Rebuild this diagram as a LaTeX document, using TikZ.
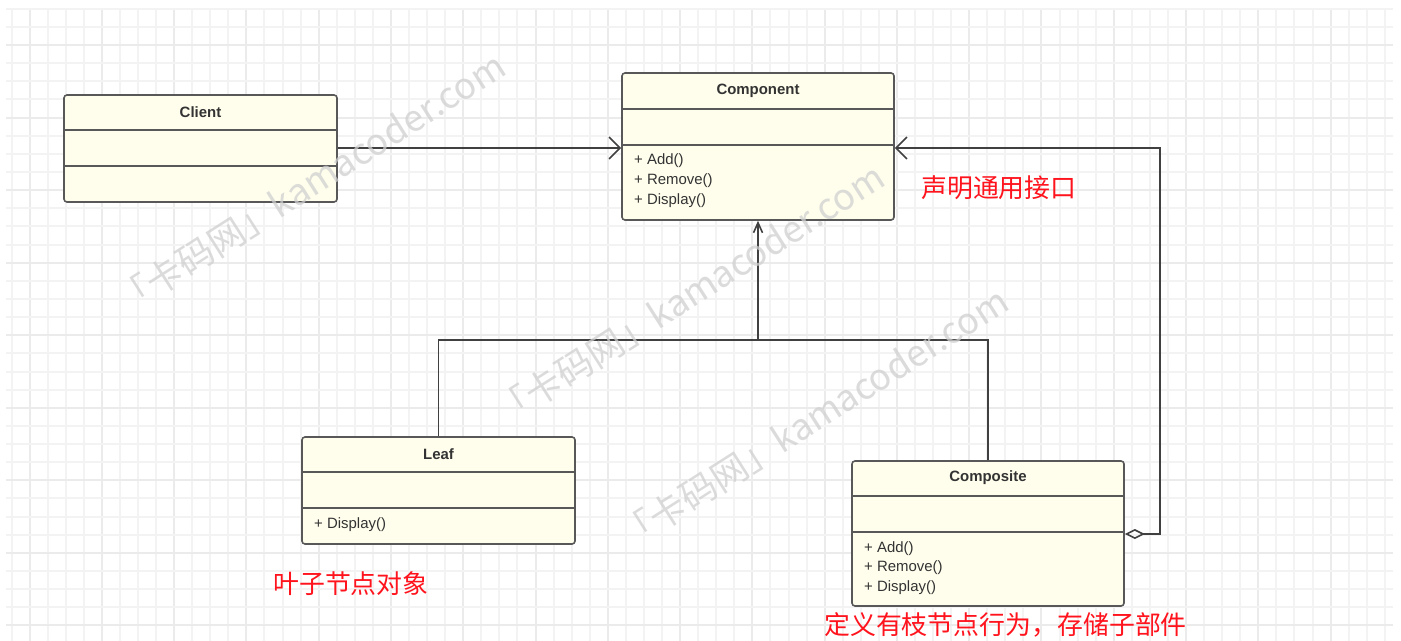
\documentclass[tikz,border=0pt]{standalone}
\usepackage{fontspec}
\setmainfont{Liberation Sans}
\newfontfamily\cjk{Noto Sans CJK SC}
\usetikzlibrary{arrows.meta}
\definecolor{gridminor}{RGB}{243,243,243}
\definecolor{gridmajor}{RGB}{235,235,235}
\definecolor{boxfill}{RGB}{255,254,236}
\definecolor{boxline}{RGB}{88,88,88}
\definecolor{conn}{RGB}{64,64,64}
\definecolor{txt}{RGB}{51,51,51}
\definecolor{note}{RGB}{255,20,30}
\definecolor{wm}{RGB}{208,208,208}
\tikzset{
  cls/.style={draw=boxline, fill=boxfill, line width=1.6bp, rounded corners=3bp, inner sep=0pt},
  divider/.style={draw=boxline, line width=1.6bp},
  ctitle/.style={font=\fontsize{15}{18}\selectfont\bfseries, text=txt, inner sep=0pt},
  meth/.style={font=\fontsize{15}{18}\selectfont, text=txt, inner sep=0pt, anchor=west},
  conline/.style={draw=conn, line width=1.6bp},
  assoc/.style={conline, -{Straight Barb[length=11bp,width=22bp]}},
  inherit/.style={conline, -{Straight Barb[length=10bp,width=9bp]}},
  aggr/.style={conline, {Diamond[open,length=20bp,width=10bp]}-{Straight Barb[length=11bp,width=22bp]}},
  notetext/.style={font=\cjk\fontsize{26}{30}\selectfont, text=note, inner sep=0pt, anchor=west},
  watermark/.style={font=\cjk\fontsize{36.5}{40}\selectfont, text=wm, opacity=0.75, inner sep=0pt, anchor=base west, rotate=32.5},
}
\begin{document}
\begin{tikzpicture}[x=1bp,y=-1bp]
\useasboundingbox (0,0) rectangle (1401,641);
\fill[white] (0,0) rectangle (1401,641);
% grid
\begin{scope}
\clip (6,9) rectangle (1393,641);
\foreach \i in {0,...,76} {
  \pgfmathtruncatemacro{\gx}{round(11.5+18.07*\i)}
  \pgfmathtruncatemacro{\m}{mod(\i+3,4)}
  \ifnum\m=0
    \draw[gridmajor, line width=2bp] (\gx,9) -- (\gx,641);
  \else
    \draw[gridminor, line width=2bp] (\gx,9) -- (\gx,641);
  \fi
}
\foreach \j in {-2,...,33} {
  \pgfmathtruncatemacro{\gy}{round(45+18.14*\j)}
  \pgfmathtruncatemacro{\m}{mod(\j+8,4)}
  \ifnum\m=0
    \draw[gridmajor, line width=2bp] (6,\gy) -- (1393,\gy);
  \else
    \draw[gridminor, line width=2bp] (6,\gy) -- (1393,\gy);
  \fi
}
\end{scope}

% Client
\node[cls, minimum width=273bp, minimum height=107bp] (client) at (200.5,148.5) {};
\draw[divider] (client.west |- 0,130) -- (client.east |- 0,130);
\draw[divider] (client.west |- 0,166) -- (client.east |- 0,166);
\node[ctitle] (clientT) at (200.5,112) {Client};

% Component
\node[cls, minimum width=272bp, minimum height=147bp] (component) at (758,146.5) {};
\draw[divider] (component.west |- 0,109) -- (component.east |- 0,109);
\draw[divider] (component.west |- 0,145) -- (component.east |- 0,145);
\node[ctitle] (componentT) at (758,91) {Component};
\node[meth] (compM1) at (634,161) {+ Add()};
\node[meth] (compM2) at (634,181) {+ Remove()};
\node[meth] (compM3) at (634,201) {+ Display()};

% Leaf
\node[cls, minimum width=273bp, minimum height=107bp] (leaf) at (438.5,490.5) {};
\draw[divider] (leaf.west |- 0,472) -- (leaf.east |- 0,472);
\draw[divider] (leaf.west |- 0,508) -- (leaf.east |- 0,508);
\node[ctitle] (leafT) at (438.5,454) {Leaf};
\node[meth] (leafM1) at (314,525) {+ Display()};

% Composite
\node[cls, minimum width=272bp, minimum height=145bp] (composite) at (988,533.5) {};
\draw[divider] (composite.west |- 0,496) -- (composite.east |- 0,496);
\draw[divider] (composite.west |- 0,532) -- (composite.east |- 0,532);
\node[ctitle] (compositeT) at (988,478) {Composite};
\node[meth] (cmpM1) at (864,549) {+ Add()};
\node[meth] (cmpM2) at (864,568) {+ Remove()};
\node[meth] (cmpM3) at (864,588) {+ Display()};

% connectors
\draw[assoc] (client.east |- 0,148) -- (component.west |- 0,148);
\coordinate (join) at (758,340);
\draw[conline] (leaf.north) |- (join) -| (composite.north);
\draw[inherit] (join) -- (component.south);
\coordinate (bend) at (1160,534);
\draw[aggr] (composite.east |- 0,534) -- (bend) |- (component.east |- 0,148);

% notes
\node[notetext] (note1) at (921,188) {声明通用接口};
\node[notetext] (note2) at (273,584) {叶子节点对象};
\node[notetext] (note3) at (824,625) {定义有枝节点行为，存储子部件};

% watermarks
\node[watermark] (wm1) at (126,317) {「卡码网」kamacoder.com};
\node[watermark] (wm2) at (505,428) {「卡码网」kamacoder.com};
\node[watermark] (wm3) at (629,552) {「卡码网」kamacoder.com};
\end{tikzpicture}
\end{document}
